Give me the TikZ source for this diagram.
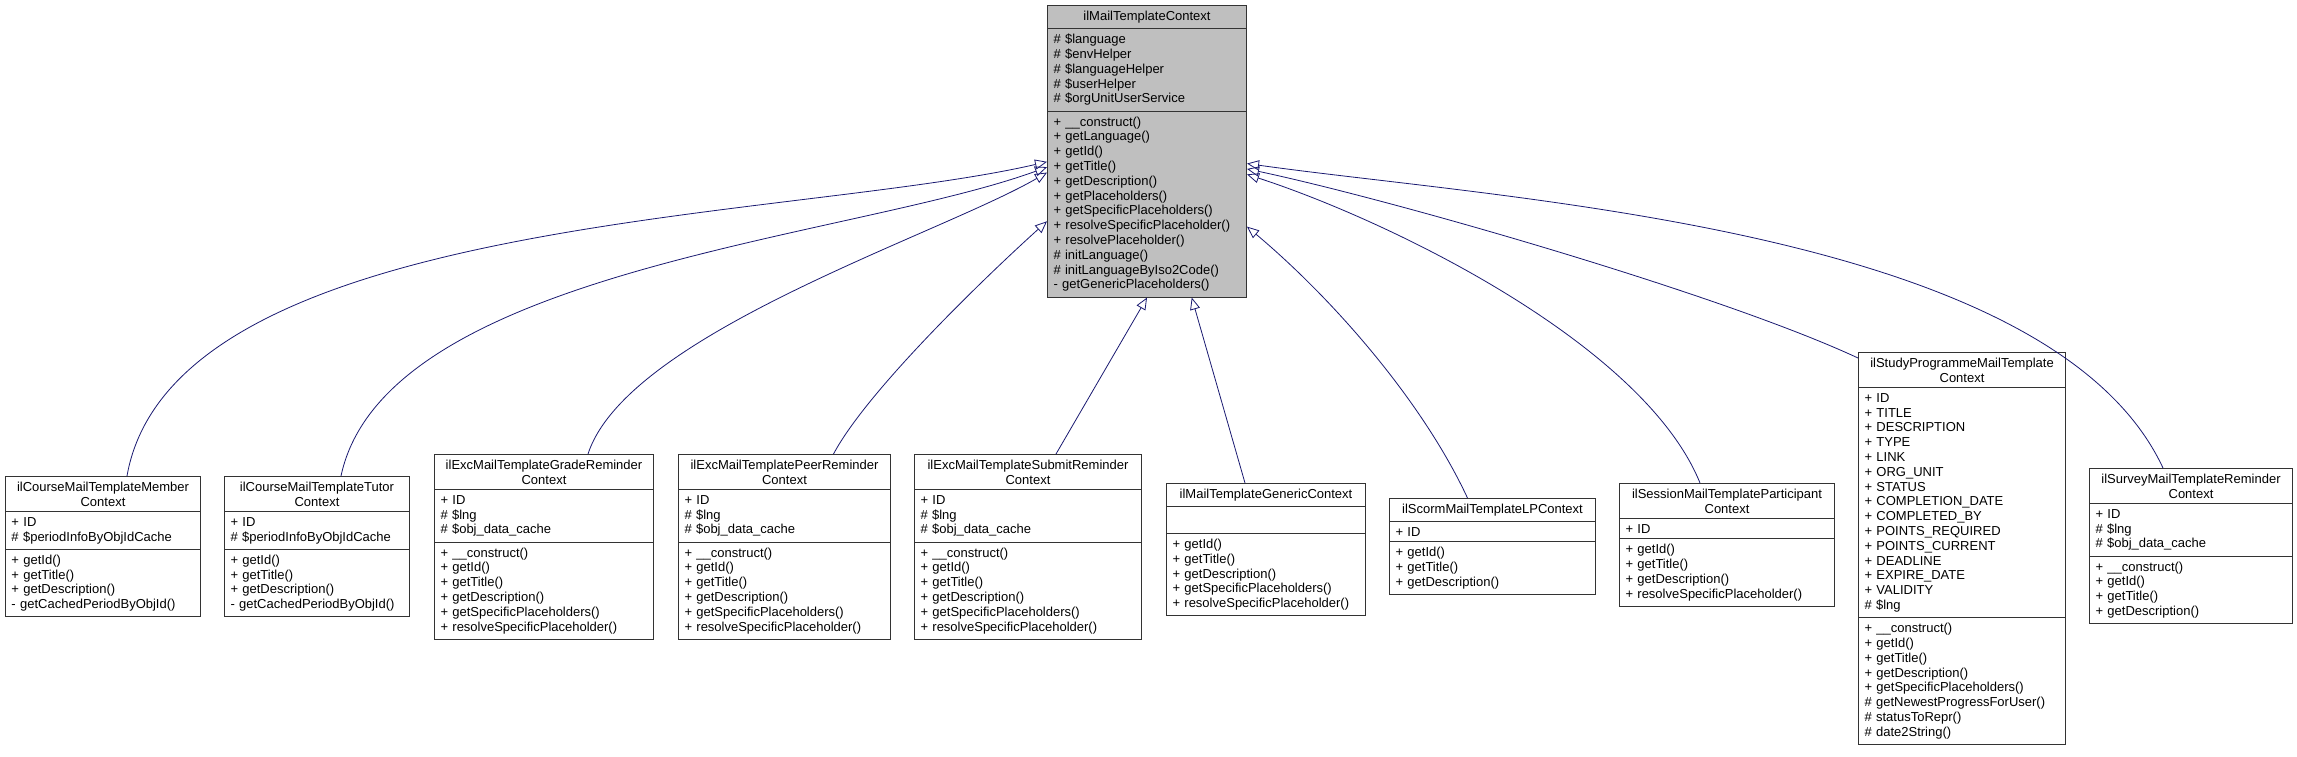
\documentclass[tikz,border=0pt]{standalone}
\usepackage{fontspec}
\setmainfont{Liberation Sans}
\usetikzlibrary{shapes.multipart,arrows.meta,calc}
\definecolor{edgeblue}{HTML}{191970}
\definecolor{basegray}{HTML}{BFBFBF}
\tikzset{
  cls/.style = {rectangle split, rectangle split parts=3, draw=black!80, line width=1pt,
    anchor=north west, align=left, inner xsep=6pt, inner ysep=5pt,
    font=\fontsize{13}{14.8}\selectfont},
  inh/.style = {draw=edgeblue, line width=0.8pt, -{Triangle[open,length=12pt,width=10pt]}}
}
\newcommand{\ttl}[1]{{\centering #1\par}}
\newcommand{\nopart}{\rule{0pt}{16pt}}
\begin{document}
\begin{tikzpicture}[x=1pt, y=-1pt]
  \useasboundingbox (0, 0) rectangle (2297, 756);
  \node [cls, fill=basegray, text width=187pt] (base) at (1047, 5)
    {\ttl{ilMailTemplateContext}
     \nodepart{two} \# \$language\\\# \$envHelper\\\# \$languageHelper\\\# \$userHelper\\\# \$orgUnitUserService
     \nodepart{three} + \_\_construct()\\+ getLanguage()\\+ getId()\\+ getTitle()\\+ getDescription()\\+ getPlaceholders()\\+ getSpecificPlaceholders()\\+ resolveSpecificPlaceholder()\\+ resolvePlaceholder()\\\# initLanguage()\\\# initLanguageByIso2Code()\\- getGenericPlaceholders()};

  \node [cls, text width=183pt] (member) at (5, 476)
    {\ttl{ilCourseMailTemplateMember\\Context}
     \nodepart{two} + ID\\\# \$periodInfoByObjIdCache
     \nodepart{three} + getId()\\+ getTitle()\\+ getDescription()\\- getCachedPeriodByObjId()};
  \node [cls, text width=173pt] (tutor) at (224, 476)
    {\ttl{ilCourseMailTemplateTutor\\Context}
     \nodepart{two} + ID\\\# \$periodInfoByObjIdCache
     \nodepart{three} + getId()\\+ getTitle()\\+ getDescription()\\- getCachedPeriodByObjId()};
  \node [cls, text width=207pt] (grade) at (434, 454)
    {\ttl{ilExcMailTemplateGradeReminder\\Context}
     \nodepart{two} + ID\\\# \$lng\\\# \$obj\_data\_cache
     \nodepart{three} + \_\_construct()\\+ getId()\\+ getTitle()\\+ getDescription()\\+ getSpecificPlaceholders()\\+ resolveSpecificPlaceholder()};
  \node [cls, text width=200pt] (peer) at (678, 454)
    {\ttl{ilExcMailTemplatePeerReminder\\Context}
     \nodepart{two} + ID\\\# \$lng\\\# \$obj\_data\_cache
     \nodepart{three} + \_\_construct()\\+ getId()\\+ getTitle()\\+ getDescription()\\+ getSpecificPlaceholders()\\+ resolveSpecificPlaceholder()};
  \node [cls, text width=215pt] (submit) at (914, 454)
    {\ttl{ilExcMailTemplateSubmitReminder\\Context}
     \nodepart{two} + ID\\\# \$lng\\\# \$obj\_data\_cache
     \nodepart{three} + \_\_construct()\\+ getId()\\+ getTitle()\\+ getDescription()\\+ getSpecificPlaceholders()\\+ resolveSpecificPlaceholder()};
  \node [cls, text width=187pt] (generic) at (1166, 483)
    {\ttl{ilMailTemplateGenericContext}
     \nodepart{two} \nopart
     \nodepart{three} + getId()\\+ getTitle()\\+ getDescription()\\+ getSpecificPlaceholders()\\+ resolveSpecificPlaceholder()};
  \node [cls, text width=194pt] (scorm) at (1389, 498)
    {\ttl{ilScormMailTemplateLPContext}
     \nodepart{two} + ID
     \nodepart{three} + getId()\\+ getTitle()\\+ getDescription()};
  \node [cls, text width=203pt] (session) at (1619, 483)
    {\ttl{ilSessionMailTemplateParticipant\\Context}
     \nodepart{two} + ID
     \nodepart{three} + getId()\\+ getTitle()\\+ getDescription()\\+ resolveSpecificPlaceholder()};
  \node [cls, text width=195pt] (study) at (1858, 352)
    {\ttl{ilStudyProgrammeMailTemplate\\Context}
     \nodepart{two} + ID\\+ TITLE\\+ DESCRIPTION\\+ TYPE\\+ LINK\\+ ORG\_UNIT\\+ STATUS\\+ COMPLETION\_DATE\\+ COMPLETED\_BY\\+ POINTS\_REQUIRED\\+ POINTS\_CURRENT\\+ DEADLINE\\+ EXPIRE\_DATE\\+ VALIDITY\\\# \$lng
     \nodepart{three} + \_\_construct()\\+ getId()\\+ getTitle()\\+ getDescription()\\+ getSpecificPlaceholders()\\\# getNewestProgressForUser()\\\# statusToRepr()\\\# date2String()};
  \node [cls, text width=191pt] (survey) at (2089, 468)
    {\ttl{ilSurveyMailTemplateReminder\\Context}
     \nodepart{two} + ID\\\# \$lng\\\# \$obj\_data\_cache
     \nodepart{three} + \_\_construct()\\+ getId()\\+ getTitle()\\+ getDescription()};

  % inheritance
  \draw [inh] ($(member.north)+(24,0)$) to [out=80, in=193, looseness=0.7] (base.186.6);
  \draw [inh] ($(tutor.north)+(24,0)$) to [out=78, in=200, looseness=0.7] (base.189.6);
  \draw [inh] ($(grade.north)+(44,0)$) to [out=72, in=210, looseness=0.6] (base.192.4);
  \draw [inh] ($(peer.north)+(49,0)$) to [out=62, in=222, looseness=0.6] (base.215);
  \draw [inh] ($(submit.north)+(28,0)$) -- (base.270);
  \draw [inh] ($(generic.north)+(-21,0)$) -- (base.287.4);
  \draw [inh] ($(scorm.north)+(-25,0)$) to [out=115, in=-40, looseness=0.8] (base.323.2);
  \draw [inh] ($(session.north)+(-27,0)$) to [out=112, in=-18, looseness=0.7] (base.347.6);
  \draw [inh] ($(study.north west)+(0,6)$) to [out=155, in=-12, looseness=0.6] (base.350.4);
  \draw [inh] ($(survey.north)+(-28,0)$) to [out=115, in=-8, looseness=0.7] (base.353.4);
\end{tikzpicture}
\end{document}
